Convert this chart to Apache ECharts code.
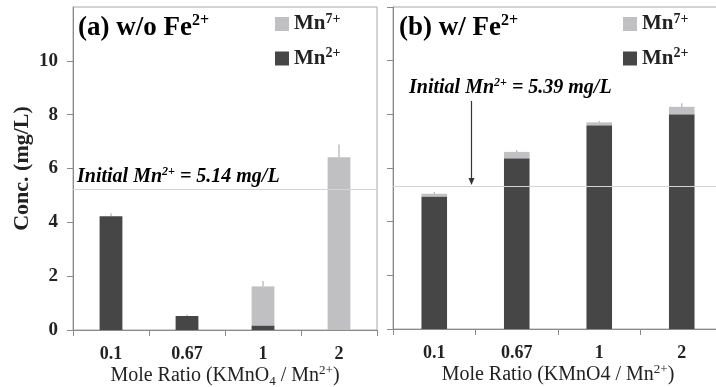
<!DOCTYPE html>
<html>
<head>
<meta charset="utf-8">
<script src="https://cdn.jsdelivr.net/npm/echarts@6/dist/echarts.min.js"></script>
<style>
  html, body { margin: 0; padding: 0; background: #fff; }
  #chart { width: 716px; height: 387px; }
</style>
</head>
<body>
<div id="chart"></div>
<script>
// mole ratio categories, same for both panels
const categories = ["0.1", "0.67", "1", "2"];

// (a) without Fe2+
const mn2A = [4.23, 0.52, 0.17, 0];
const mn7A = [0, 0, 1.45, 6.42];
const errA = [0.1, 0.05, 0.2, 0.47];
const initialA = 5.24;

// (b) with Fe2+
const mn2B = [4.94, 6.36, 7.59, 8.0];
const mn7B = [0.1, 0.24, 0.11, 0.28];
const errB = [0.07, 0.07, 0.05, 0.13];
const initialB = 5.33;

const yTicks = [0, 2, 4, 6, 8, 10, 12];

const FONT = "Liberation Serif";
const DARK = "#464646";
const LIGHT = "#c0c0c2";

const chart = echarts.init(document.getElementById("chart"));

const supRich = {
  b: { fontFamily: FONT, fontWeight: "bold", fontSize: 21, lineHeight: 24, color: "#222" },
  s: { fontFamily: FONT, fontWeight: "bold", fontSize: 14, lineHeight: 14, verticalAlign: "top", color: "#222" },
};

function errorSeries(name, axisIdx, base, top, err) {
  return {
    type: "custom",
    name: name,
    xAxisIndex: axisIdx,
    yAxisIndex: axisIdx,
    silent: true,
    z: 5,
    data: categories.map((c, i) => [i, base[i] + top[i], base[i] + top[i] + err[i]]),
    renderItem: (params, api) => {
      const p1 = api.coord([api.value(0), api.value(1)]);
      const p2 = api.coord([api.value(0), api.value(2)]);
      return {
        type: "line",
        shape: { x1: p1[0], y1: p1[1], x2: p2[0], y2: p2[1] },
        style: { stroke: "#a0a0a0", lineWidth: 1 },
      };
    },
  };
}

function initLine(value) {
  return {
    silent: true,
    symbol: "none",
    label: { show: false },
    lineStyle: { color: "#d4d4d4", type: "solid", width: 1 },
    data: [{ yAxis: value }],
  };
}

function xAxisFor(gridIndex, nameRich) {
  return {
    type: "category",
    gridIndex: gridIndex,
    data: categories,
    axisLine: { lineStyle: { color: "#8a8a8a" } },
    axisTick: { show: true, length: 6, lineStyle: { color: "#8a8a8a" } },
    axisLabel: { fontFamily: FONT, fontWeight: "bold", fontSize: 18, color: "#222", margin: 15 },
    name: nameRich,
    nameLocation: "middle",
    nameGap: 34,
    nameMoveOverlap: false,
    nameTextStyle: {
      rich: {
        n: { fontFamily: FONT, fontSize: 20, color: "#222", lineHeight: 24 },
        sup: { fontFamily: FONT, fontSize: 13, color: "#222", lineHeight: 13, verticalAlign: "top" },
        sub: { fontFamily: FONT, fontSize: 13, color: "#222", lineHeight: 13, verticalAlign: "bottom" },
      },
    },
  };
}

function yAxisFor(gridIndex, showLabels) {
  return {
    type: "value",
    gridIndex: gridIndex,
    min: 0,
    max: 12,
    interval: 2,
    splitLine: { show: false },
    axisLine: { show: true, lineStyle: { color: "#8a8a8a" } },
    axisTick: { show: true, length: 6, lineStyle: { color: "#8a8a8a" } },
    axisLabel: {
      show: showLabels,
      showMaxLabel: false,
      fontFamily: FONT,
      fontWeight: "bold",
      fontSize: 19,
      color: "#222",
      margin: 15,
    },
    name: showLabels ? "Conc. (mg/L)" : "",
    nameLocation: "middle",
    nameGap: 40,
    nameTextStyle: { fontFamily: FONT, fontWeight: "bold", fontSize: 22, color: "#222" },
  };
}

function legendAt(left) {
  return {
    left: left,
    top: 12,
    padding: 0,
    orient: "vertical",
    icon: "rect",
    itemWidth: 14,
    itemHeight: 14,
    itemGap: 12,
    selectedMode: false,
    data: ["Mn7+", "Mn2+"],
    formatter: (name) => (name === "Mn7+" ? "{b|Mn}{s|7+}" : "{b|Mn}{s|2+}"),
    textStyle: { rich: supRich },
  };
}

function titleText(left, main) {
  return {
    type: "text",
    left: left,
    top: 13,
    style: {
      text: "{t|" + main + "}{s|2+}",
      rich: {
        t: { fontFamily: FONT, fontWeight: "bold", fontSize: 27, lineHeight: 30, color: "#222" },
        s: { fontFamily: FONT, fontWeight: "bold", fontSize: 16, lineHeight: 16, verticalAlign: "top", color: "#222" },
      },
    },
  };
}

function noteText(left, top, value) {
  return {
    type: "text",
    left: left,
    top: top,
    style: {
      text: "{t|Initial Mn}{s|2+}{t| = " + value + " mg/L}",
      rich: {
        t: { fontFamily: FONT, fontStyle: "italic", fontWeight: "bold", fontSize: 20, lineHeight: 22, color: "#2a2a2a" },
        s: { fontFamily: FONT, fontStyle: "italic", fontWeight: "bold", fontSize: 12, lineHeight: 12, verticalAlign: "top", color: "#2a2a2a" },
      },
    },
  };
}

chart.setOption({
  animation: false,
  grid: [
    { left: 73, top: 7, width: 304, height: 323, outerBoundsMode: "none", containLabel: false, show: true, borderColor: "#a8a8a8", borderWidth: 1 },
    { left: 393, top: 7, width: 330, height: 322, outerBoundsMode: "none", containLabel: false, show: true, borderColor: "#a8a8a8", borderWidth: 1 },
  ],
  legend: [legendAt(275), legendAt(623)],
  xAxis: [
    xAxisFor(0, "{n|Mole Ratio (KMnO}{sub|4}{n| / Mn}{sup|2+}{n|)}"),
    xAxisFor(1, "{n|Mole Ratio (KMnO4 / Mn}{sup|2+}{n|)}"),
  ],
  yAxis: [yAxisFor(0, true), yAxisFor(1, false)],
  series: [
    {
      name: "Mn2+", type: "bar", xAxisIndex: 0, yAxisIndex: 0, stack: "a",
      barWidth: "30%", data: mn2A,
      itemStyle: { color: DARK },
      markLine: initLine(initialA),
    },
    {
      name: "Mn7+", type: "bar", xAxisIndex: 0, yAxisIndex: 0, stack: "a",
      barWidth: "30%", data: mn7A,
      itemStyle: { color: LIGHT },
    },
    {
      name: "Mn2+", type: "bar", xAxisIndex: 1, yAxisIndex: 1, stack: "b",
      barWidth: "31%", data: mn2B,
      itemStyle: { color: DARK },
      markLine: initLine(initialB),
    },
    {
      name: "Mn7+", type: "bar", xAxisIndex: 1, yAxisIndex: 1, stack: "b",
      barWidth: "31%", data: mn7B,
      itemStyle: { color: LIGHT },
    },
    errorSeries("errA", 0, mn2A, mn7A, errA),
    errorSeries("errB", 1, mn2B, mn7B, errB),
  ],
  graphic: [
    titleText(78, "(a) w/o Fe"),
    titleText(399, "(b) w/ Fe"),
    noteText(77, 166, "5.14"),
    noteText(409, 77, "5.39"),
    // arrow pointing at the initial Mn2+ line in panel (b)
    {
      type: "line",
      shape: { x1: 471.5, y1: 101, x2: 471.5, y2: 181 },
      style: { stroke: "#333", lineWidth: 1.2 },
    },
    {
      type: "polygon",
      shape: { points: [[468.5, 178], [474.5, 178], [471.5, 185]] },
      style: { fill: "#333" },
    },
  ],
});
</script>
</body>
</html>
